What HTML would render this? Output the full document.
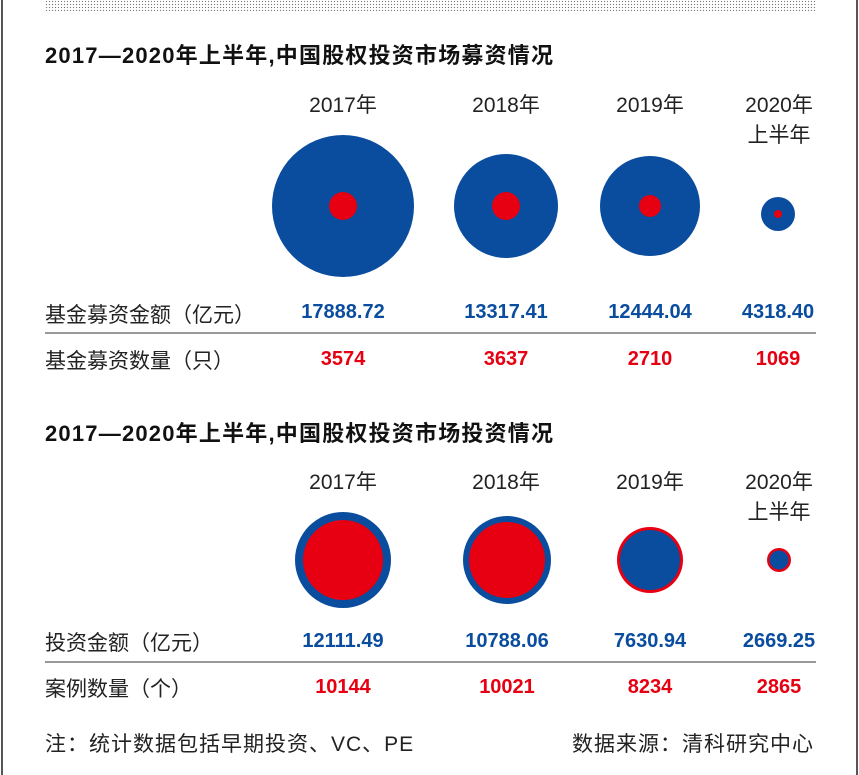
<!DOCTYPE html>
<html><head><meta charset="utf-8"><style>
body{margin:0;width:859px;height:775px;background:#fff;position:relative;overflow:hidden;font-family:"Liberation Sans","Noto Sans CJK SC",sans-serif;}
.a{position:absolute;white-space:nowrap;}
.t{font-weight:bold;font-size:22px;color:#111;left:45px;letter-spacing:1.2px;}
.y{font-size:21px;color:#222;text-align:center;width:120px;line-height:30px;}
.l{font-size:21px;color:#222;left:45px;}
.f{letter-spacing:1px;}
.v{font-weight:bold;font-size:20px;text-align:center;width:140px;font-family:"Liberation Sans Narrow","Liberation Sans",sans-serif;}
.b{color:#0a4c9e}.r{color:#e60012}
.hr{position:absolute;left:45px;width:771px;height:2px;background:#999;}
</style></head><body>
<div class="a" style="left:1px;top:0;width:2px;height:775px;background:#555"></div>
<div class="a" style="left:856px;top:0;width:2px;height:775px;background:#555"></div>
<div class="a" style="left:45px;top:0;width:771px;height:12px;background-image:radial-gradient(#777 0.7px,transparent 0.8px);background-size:3px 3px"></div>
<div class="a t" style="top:38px">2017—2020年上半年,中国股权投资市场募资情况</div>
<div class="a y" style="left:283px;top:91px">2017年</div>
<div class="a y" style="left:446px;top:91px">2018年</div>
<div class="a y" style="left:590px;top:91px">2019年</div>
<div class="a y" style="left:719px;top:91px">2020年<br>上半年</div>
<svg class="a" style="left:0;top:0" width="859" height="775">
<circle cx="343" cy="206" r="71" fill="#0a4c9e"/><circle cx="343" cy="206" r="14" fill="#e60012"/>
<circle cx="506" cy="206" r="52" fill="#0a4c9e"/><circle cx="506" cy="206" r="14" fill="#e60012"/>
<circle cx="650" cy="206" r="50" fill="#0a4c9e"/><circle cx="650" cy="206" r="11" fill="#e60012"/>
<circle cx="778" cy="214" r="17" fill="#0a4c9e"/><circle cx="778" cy="214" r="4" fill="#e60012"/>
<circle cx="343" cy="560" r="48" fill="#0a4c9e"/><circle cx="343" cy="560" r="40" fill="#e60012"/>
<circle cx="507" cy="560" r="44" fill="#0a4c9e"/><circle cx="507" cy="560" r="38" fill="#e60012"/>
<circle cx="650" cy="560" r="33" fill="#e60012"/><circle cx="650" cy="560" r="30" fill="#0a4c9e"/>
<circle cx="779" cy="560" r="12" fill="#e60012"/><circle cx="779" cy="560" r="9.5" fill="#0a4c9e"/>
</svg>
<div class="a l" style="top:299px">基金募资金额（亿元）</div>
<div class="a v b" style="left:273px;top:301px">17888.72</div>
<div class="a v b" style="left:436px;top:301px">13317.41</div>
<div class="a v b" style="left:580px;top:301px">12444.04</div>
<div class="a v b" style="left:708px;top:301px">4318.40</div>
<div class="hr" style="top:332px"></div>
<div class="a l" style="top:345px">基金募资数量（只）</div>
<div class="a v r" style="left:273px;top:348px">3574</div>
<div class="a v r" style="left:436px;top:348px">3637</div>
<div class="a v r" style="left:580px;top:348px">2710</div>
<div class="a v r" style="left:708px;top:348px">1069</div>
<div class="a t" style="top:416px">2017—2020年上半年,中国股权投资市场投资情况</div>
<div class="a y" style="left:283px;top:468px">2017年</div>
<div class="a y" style="left:446px;top:468px">2018年</div>
<div class="a y" style="left:590px;top:468px">2019年</div>
<div class="a y" style="left:719px;top:468px">2020年<br>上半年</div>
<div class="a l" style="top:627px">投资金额（亿元）</div>
<div class="a v b" style="left:273px;top:630px">12111.49</div>
<div class="a v b" style="left:437px;top:630px">10788.06</div>
<div class="a v b" style="left:580px;top:630px">7630.94</div>
<div class="a v b" style="left:709px;top:630px">2669.25</div>
<div class="hr" style="top:661px"></div>
<div class="a l" style="top:673px">案例数量（个）</div>
<div class="a v r" style="left:273px;top:676px">10144</div>
<div class="a v r" style="left:437px;top:676px">10021</div>
<div class="a v r" style="left:580px;top:676px">8234</div>
<div class="a v r" style="left:709px;top:676px">2865</div>
<div class="a l f" style="top:728px">注：统计数据包括早期投资、VC、PE</div>
<div class="a l f" style="left:572px;top:728px">数据来源：清科研究中心</div>
</body></html>
